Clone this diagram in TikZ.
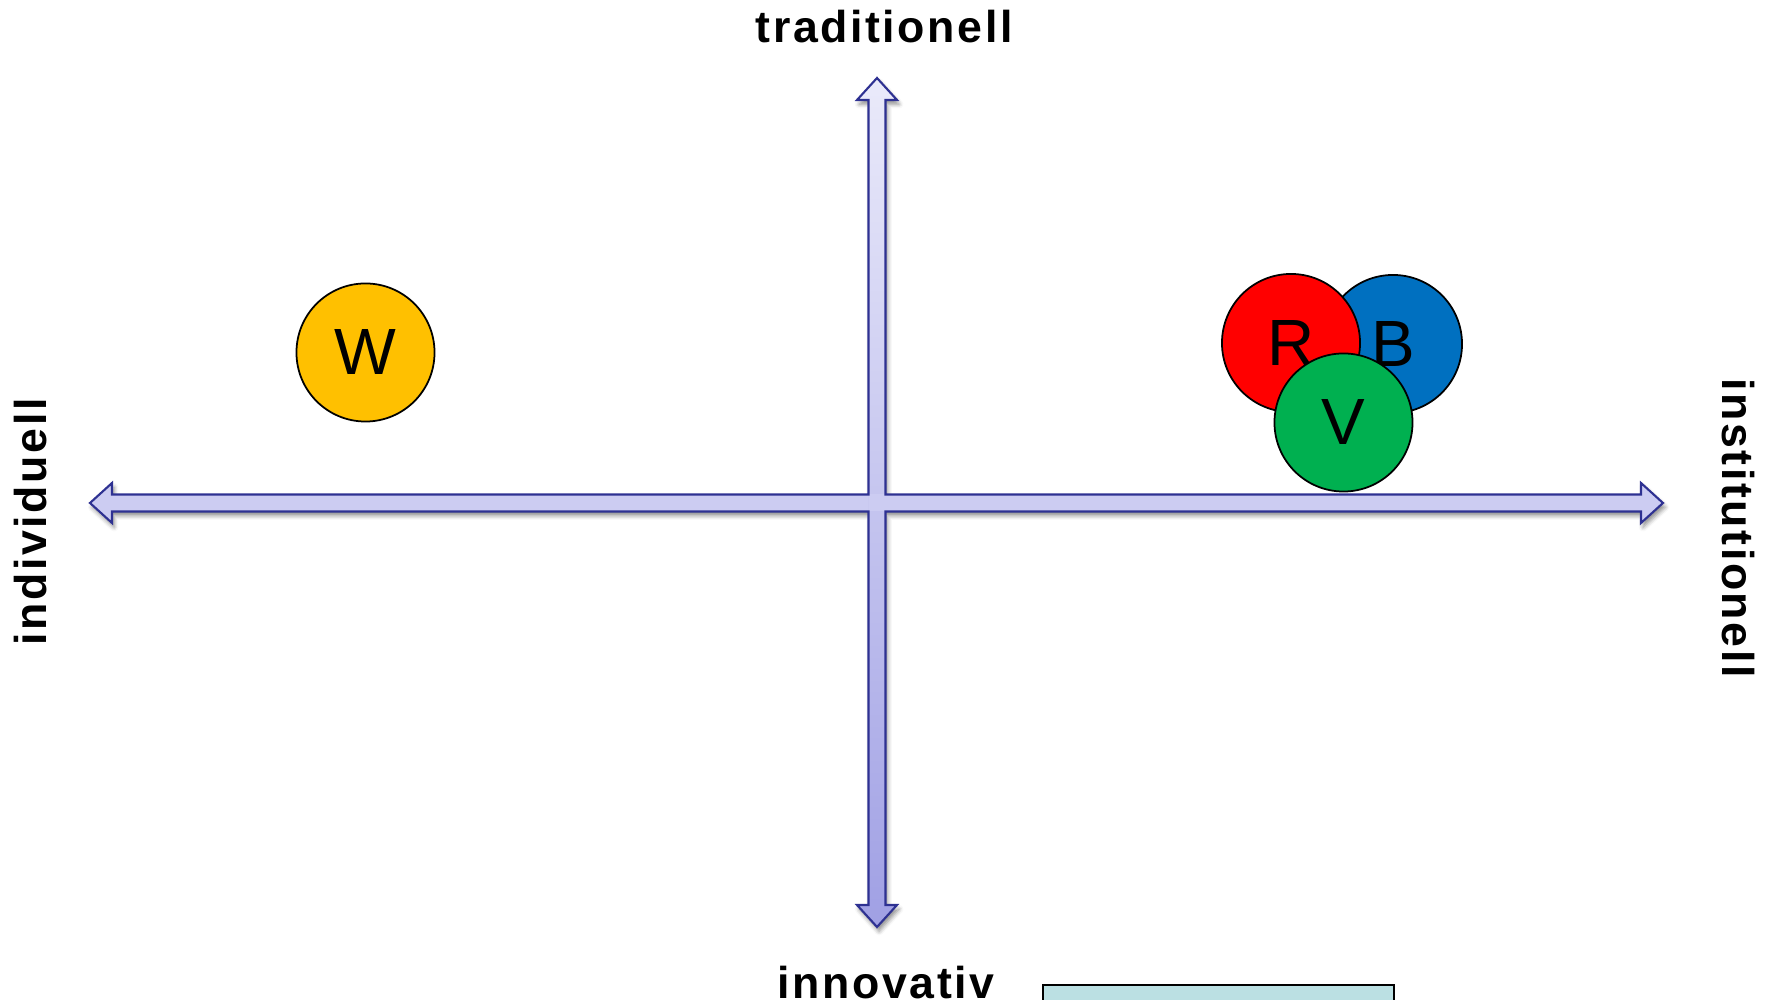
\documentclass[tikz,border=0pt]{standalone}
\usepackage{fontspec}
\setmainfont{Liberation Sans}
\newfontfamily\axisfont[LetterSpace=5.8]{Liberation Sans}
\usetikzlibrary{shadows.blur}
\definecolor{axisline}{RGB}{46,49,146}
\definecolor{axisfill}{RGB}{204,204,242}
\definecolor{axistop}{RGB}{234,234,250}
\definecolor{axisbottom}{RGB}{160,160,228}
\definecolor{wgold}{RGB}{255,192,0}
\definecolor{rred}{RGB}{255,0,0}
\definecolor{bblue}{RGB}{0,112,192}
\definecolor{vgreen}{RGB}{0,176,80}
\definecolor{boxfill}{RGB}{187,224,227}
\tikzset{
  party/.style={circle,draw=black,line width=0.5pt,minimum size=1.38cm,inner sep=0pt,
    font=\fontsize{18.6}{20}\selectfont},
  axislabel/.style={inner sep=0pt,anchor=base,font=\axisfont\bfseries\fontsize{12.7}{15}\selectfont}
}

\begin{document}
\begin{tikzpicture}[x=0.01cm,y=0.01cm]
    \useasboundingbox (0,0) rectangle (1769,1000);
    % axes as one cross shape
    \path[fill=axisfill,save path=\axispath,
      blur shadow={shadow xshift=0.6pt,shadow yshift=-1.2pt,shadow blur radius=1.2pt,shadow opacity=45}]
      (877,922) -- (897,900) -- (885.5,900) -- (885.5,505.5) -- (1641,505.5) -- (1641,517)
      -- (1663,497) -- (1641,477) -- (1641,488.5) -- (885.5,488.5) -- (885.5,95) -- (897,95)
      -- (877,73) -- (857,95) -- (868.5,95) -- (868.5,488.5) -- (112,488.5) -- (112,477)
      -- (90,497) -- (112,517) -- (112,505.5) -- (868.5,505.5) -- (868.5,900) -- (857,900) -- cycle;
    \shade[top color=axistop,bottom color=axisbottom]
      (877,922) -- (897,900) -- (885.5,900) -- (885.5,95) -- (897,95) -- (877,73)
      -- (857,95) -- (868.5,95) -- (868.5,900) -- (857,900) -- cycle;
    \fill[axisfill] (868.5,488.5) rectangle (885.5,505.5);
    \draw[axisline,line width=0.6pt,line join=miter,use path=\axispath];
    % labels
    \node[axislabel] (trad) at (884,957) {traditionell};
    \node[axislabel] (inno) at (886,1) {innovativ};
    \node[axislabel,rotate=90] (indi) at (47,478) {individuell};
    \node[axislabel,rotate=-90] (inst) at (1722,472) {institutionell};
    % parties
    \node[party,fill=wgold] (W) at (365.5,647.5) {W};
    \node[party,fill=bblue] (B) at (1393,656) {B};
    \node[party,fill=rred] (R) at (1291,657) {R};
    \node[party,fill=vgreen] (V) at (1343.5,577.5) {V};
    %\node[party] (X) at (0,0) {};
    \draw[fill=boxfill,line width=0.6pt] (1043,15) rectangle (1394,-20);
\end{tikzpicture}
\end{document}
